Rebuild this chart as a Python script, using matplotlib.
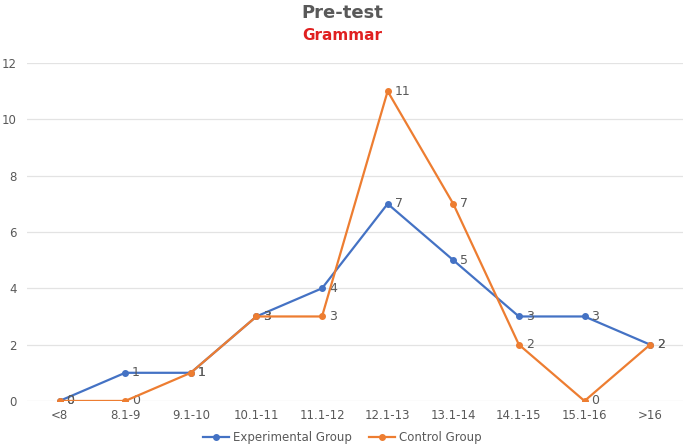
import matplotlib.pyplot as plt

categories = ["<8", "8.1-9", "9.1-10", "10.1-11", "11.1-12",
              "12.1-13", "13.1-14", "14.1-15", "15.1-16", ">16"]
experimental = [0, 1, 1, 3, 4, 7, 5, 3, 3, 2]
control = [0, 0, 1, 3, 3, 11, 7, 2, 0, 2]

BLUE = "#4472C4"
ORANGE = "#ED7D31"
GRAY = "#595959"

fig = plt.figure(figsize=(6.85, 4.47), dpi=100)
ax = fig.add_axes([0.039, 0.103, 0.958, 0.756])

x = list(range(len(categories)))
ax.plot(x, experimental, color=BLUE, lw=1.6, marker="o", ms=4,
        label="Experimental Group", zorder=3)
ax.plot(x, control, color=ORANGE, lw=1.6, marker="o", ms=4,
        label="Control Group", zorder=4)

for xi, v in zip(x, experimental):
    ax.annotate(str(v), (xi, v), xytext=(5, 0), textcoords="offset points",
                va="center", ha="left", fontsize=9, color=GRAY)
for xi, v in zip(x, control):
    ax.annotate(str(v), (xi, v), xytext=(5, 0), textcoords="offset points",
                va="center", ha="left", fontsize=9, color=GRAY)

ax.set_xlim(-0.5, len(categories) - 0.5)
ax.set_ylim(0, 12)
ax.set_yticks(range(0, 13, 2))
ax.set_xticks(x)
ax.set_xticklabels(categories)
ax.tick_params(axis="both", length=0, labelsize=8.5, colors=GRAY)
ax.tick_params(axis="y", pad=7)
ax.tick_params(axis="x", pad=6)
ax.grid(axis="y", color="#E3E3E3", lw=0.9)
ax.set_axisbelow(True)
for s in ax.spines.values():
    s.set_visible(False)

fig.text(0.5, 0.97, "Pre-test", ha="center", va="center",
         fontsize=13, fontweight="bold", color=GRAY)
fig.text(0.5, 0.92, "Grammar", ha="center", va="center",
         fontsize=11, fontweight="bold", color="#E02020")

fig.legend(loc="center", bbox_to_anchor=(0.5, 0.022), ncol=2, frameon=False,
           fontsize=8.5, labelcolor=GRAY, handlelength=2.2, columnspacing=1.5,
           handletextpad=0.3)

fig.savefig("out.png", dpi=100, facecolor="white")
